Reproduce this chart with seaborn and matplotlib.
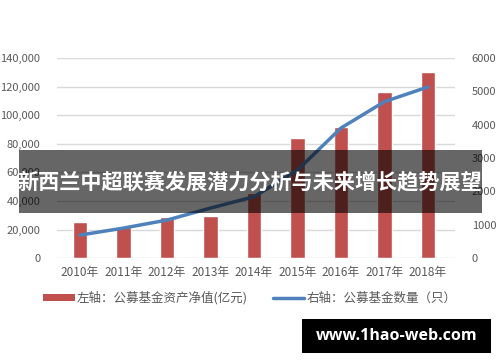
import numpy as np
import pandas as pd
import matplotlib
matplotlib.use('Agg')
import matplotlib.pyplot as plt
from matplotlib.patches import Rectangle, Patch
from matplotlib.lines import Line2D
import seaborn as sns

# data
years = ['2010年', '2011年', '2012年', '2013年', '2014年', '2015年', '2016年', '2017年', '2018年']
net_assets = [24972, 21680, 28661, 29294, 45353, 83972, 91593, 115996, 130347]   # 亿元, left axis
fund_count = [690, 900, 1140, 1500, 1840, 2640, 3900, 4690, 5130]              # 只, right axis
left_ticks = [0, 20000, 40000, 60000, 80000, 100000, 120000, 140000]
right_ticks = [0, 1000, 2000, 3000, 4000, 5000, 6000]
title = '新西兰中超联赛发展潜力分析与未来增长趋势展望'
bar_label = '左轴：公募基金资产净值(亿元)'
line_label = '右轴：公募基金数量（只）'
watermark = 'www.1hao-web.com'

sns.set_theme(style='white')
plt.rcParams['font.family'] = ['Noto Sans CJK SC', 'DejaVu Sans']

df = pd.DataFrame({'year': years, 'assets': net_assets, 'count': fund_count})

fig = plt.figure(figsize=(5, 3.62), dpi=100)
ax = fig.add_axes([0.114, 0.287, 0.796, 0.553])

tick_color = '#595959'
red = '#C0504D'
blue = '#4F81BD'

sns.barplot(data=df, x='year', y='assets', color=red, width=0.34, saturation=1, ax=ax, zorder=2)
ax.set_ylim(0, 140000)
ax.set_yticks(left_ticks)
ax.set_yticklabels([f'{v:,}' for v in left_ticks])
ax.yaxis.grid(True, color='#D9D9D9', linewidth=1, zorder=0)
ax.set_axisbelow(True)
ax.set_xlabel('')
ax.set_ylabel('')
for s in ax.spines.values():
    s.set_visible(False)
ax.tick_params(axis='y', length=0, pad=12, labelsize=8, labelcolor=tick_color)
ax.tick_params(axis='x', length=0, pad=6, labelsize=8.5, labelcolor=tick_color)

ax2 = ax.twinx()
sns.lineplot(x=np.arange(len(years)), y=df['count'], color=blue, linewidth=2.5, ax=ax2, zorder=3)
ax2.set_ylim(0, 6000)
ax2.set_yticks(right_ticks)
ax2.set_yticklabels([str(v) for v in right_ticks])
ax2.set_ylabel('')
for s in ax2.spines.values():
    s.set_visible(False)
ax2.tick_params(axis='y', length=0, pad=12, labelsize=8, labelcolor=tick_color)
ax.set_xlim(-0.53, 8.62)

handles = [Patch(facecolor=red, edgecolor='none', label=bar_label),
           Line2D([0], [0], color=blue, linewidth=2.5, label=line_label)]
fig.legend(handles=handles, loc='center', bbox_to_anchor=(0.5, 0.177), ncol=2,
           frameon=False, fontsize=9, labelcolor=tick_color, handlelength=2.5,
           handleheight=0.5, columnspacing=2.0, handletextpad=0.2)

# title band
fig.add_artist(Rectangle((0.038, 0.4116), 0.926, 0.174, transform=fig.transFigure,
                         facecolor='black', alpha=0.6, edgecolor='none', zorder=10))
fig.text(0.5, 0.494, title, ha='center', va='center', color='white', fontsize=15.2,
         fontweight='bold', zorder=11)

# watermark box
fig.add_artist(Rectangle((0.604, 1 - 353 / 362), 0.378, 34 / 362, transform=fig.transFigure,
                         facecolor='black', edgecolor='none', zorder=10))
fig.text(0.793, 1 - 336 / 362, watermark, ha='center', va='center', color='white',
         fontsize=11.5, fontweight='bold', family=['Open Sans', 'DejaVu Sans'], zorder=11)

fig.savefig('out.png', dpi=100)
